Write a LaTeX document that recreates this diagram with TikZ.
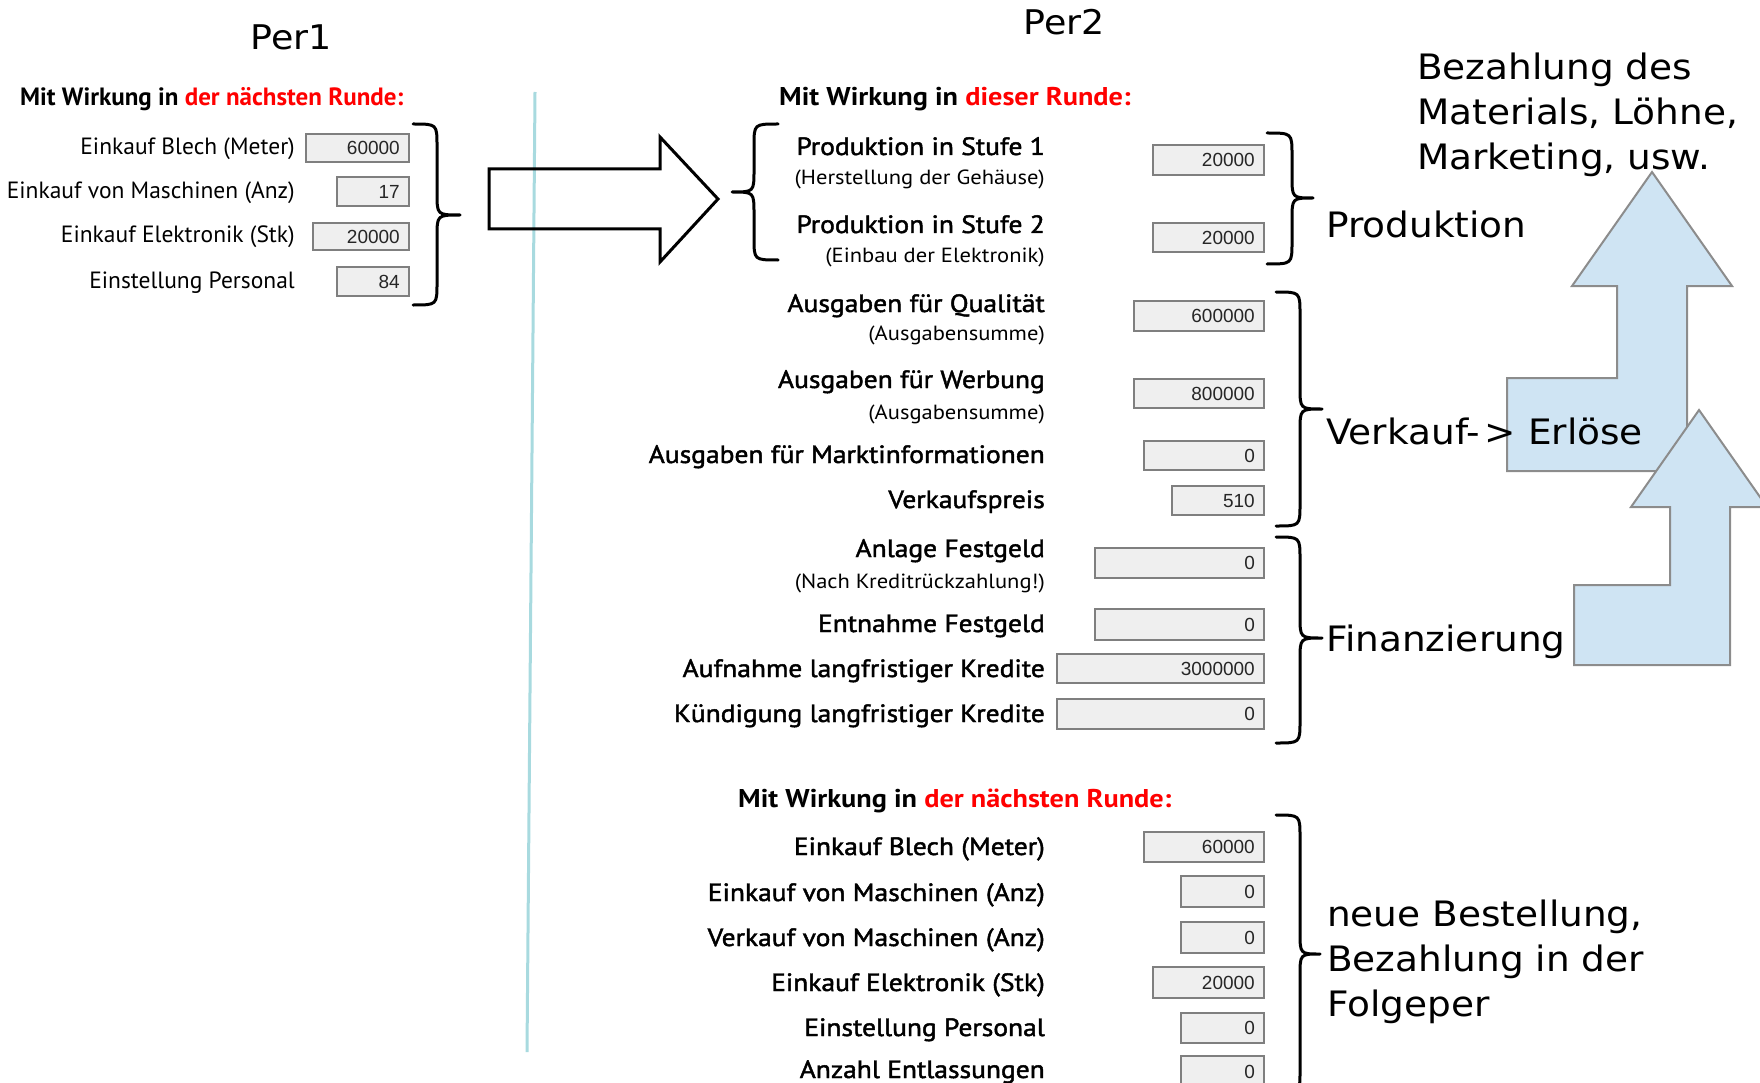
\documentclass[tikz,border=0pt]{standalone}
\usepackage{fontspec}
\setmainfont[FakeStretch=1.07]{DejaVu Sans}
\newfontfamily\formA{PT Sans}
\newfontfamily\formB[FakeStretch=1.1,FakeBold=1.8]{PT Sans}
\newfontfamily\formBlight[FakeStretch=1.1]{PT Sans}
\newfontfamily\numfont{Liberation Sans}

\definecolor{boxfill}{HTML}{EFEFEF}
\definecolor{boxline}{HTML}{7F7F7F}
\definecolor{sepline}{HTML}{A8DADF}
\definecolor{upfill}{HTML}{CFE4F3}
\definecolor{upline}{HTML}{8C8C8C}
\definecolor{hot}{HTML}{FF0000}

\tikzset{
  bracepath/.style={line width=3pt, line cap=round, line join=round},
  valbox/.style={draw=boxline, fill=boxfill, line width=2pt, inner sep=0pt, anchor=north west},
  valtxt/.style={anchor=east, inner sep=0pt, text=black!85, font=\numfont\fontsize{19}{22}\selectfont},
  title/.style={anchor=base, inner sep=0pt, font=\fontsize{34}{40}\selectfont},
  hdrA/.style={anchor=base west, inner sep=0pt, font=\formA\bfseries\fontsize{25}{28}\selectfont},
  hdrB/.style={anchor=base west, inner sep=0pt, font=\formBlight\bfseries\fontsize{25.7}{30}\selectfont},
  lblA/.style={anchor=base east, inner sep=0pt, font=\formA\fontsize{23.5}{28}\selectfont},
  lblB/.style={anchor=base east, inner sep=0pt, font=\formB\fontsize{25}{30}\selectfont},
  subB/.style={anchor=base east, inner sep=0pt, font=\formBlight\fontsize{20.5}{24}\selectfont},
  note/.style={anchor=base west, inner sep=0pt, font=\fontsize{35}{45}\selectfont},
  notelines/.style={anchor=north west, inner sep=0pt, align=left, font=\fontsize{35}{45}\selectfont},
  upshape/.style={fill=upfill, draw=upline, line width=2pt, line join=miter},
  bigarrow/.style={draw=black, line width=3pt, line join=miter},
}

% input field: name, left, top, right, bottom, value
\newcommand\ValBox[6]{%
  \node[valbox, minimum width=#4pt-#2pt, minimum height=#5pt-#3pt] (#1) at (#2,#3) {};
  \node[valtxt] (#1t) at ([xshift=-10pt]#1.east) {#6};}

% curly brace: end x, stem x, tip x, top y, tip y, bottom y
\newcommand\CurlyBr[6]{%
  \draw[bracepath] (#1,#4) .. controls (#2,#4) .. (#2,#4+22) -- (#2,#5-22)
    .. controls (#2,#5) .. (#3,#5) .. controls (#2,#5) .. (#2,#5+22)
    -- (#2,#6-22) .. controls (#2,#6) .. (#1,#6);}

\begin{document}
\begin{tikzpicture}[x=1pt,y=-1pt]
\useasboundingbox (0,0) rectangle (1760,1083);
\clip (0,0) rectangle (1760,1083);

% separator between the two periods
\coordinate (septop) at (535,92);
\coordinate (sepbot) at (527,1052);
\draw[sepline, line width=3pt] (septop) -- (sepbot);

% hollow arrow from period 1 to period 2
\draw[bigarrow] (489,169) -- (660,169) -- (660,137) -- (718,199) -- (660,262)
  -- (660,229) -- (489,229) -- cycle;

% rising cash-flow arrows
\draw[upshape] (1507,378) -- (1617,378) -- (1617,286) -- (1572,286) -- (1652,172)
  -- (1732,286) -- (1687,286) -- (1687,471) -- (1507,471) -- cycle;
\draw[upshape] (1574,585) -- (1670,585) -- (1670,507) -- (1631,507) -- (1699,410)
  -- (1767,507) -- (1730,507) -- (1730,665) -- (1574,665) -- cycle;

% titles
\node[title] (per1) at (291,50) {Per1};
\node[title] (per2) at (1064,35) {Per2};

% ---------- period 1 ----------
\node[hdrA] (hA) at (20,106) {Mit Wirkung in \textcolor{hot}{der nächsten Runde:}};
\node[lblA] (a1) at (295,155) {Einkauf Blech (Meter)};
\node[lblA] (a2) at (295,199) {Einkauf von Maschinen (Anz)};
\node[lblA] (a3) at (295,243) {Einkauf Elektronik (Stk)};
\node[lblA] (a4) at (295,288) {Einstellung Personal};
\ValBox{va1}{305}{133}{408}{161}{60000}
\ValBox{va2}{336}{176}{408}{205}{17}
\ValBox{va3}{312}{222}{408}{249}{20000}
\ValBox{va4}{336}{266}{408}{295}{84}
\CurlyBr{413}{437}{460}{124}{215}{305}

% ---------- period 2: this round ----------
\node[hdrB] (hB) at (779,106) {Mit Wirkung in \textcolor{hot}{dieser Runde:}};
\CurlyBr{778}{754}{732}{124}{192}{260}

\node[lblB] (b1) at (1045,155) {Produktion in Stufe 1};
\node[subB] (b1s) at (1045,185) {(Herstellung der Gehäuse)};
\node[lblB] (b2) at (1045,233) {Produktion in Stufe 2};
\node[subB] (b2s) at (1045,262) {(Einbau der Elektronik)};
\node[lblB] (b3) at (1045,312) {Ausgaben für Qualität};
\node[subB] (b3s) at (1045,340) {(Ausgabensumme)};
\node[lblB] (b4) at (1045,388) {Ausgaben für Werbung};
\node[subB] (b4s) at (1045,419) {(Ausgabensumme)};
\node[lblB] (b5) at (1045,463) {Ausgaben für Marktinformationen};
\node[lblB] (b6) at (1045,508) {Verkaufspreis};
\node[lblB] (b7) at (1045,557) {Anlage Festgeld};
\node[subB] (b7s) at (1045,588) {(Nach Kreditrückzahlung!)};
\node[lblB] (b8) at (1045,632) {Entnahme Festgeld};
\node[lblB] (b9) at (1045,677) {Aufnahme langfristiger Kredite};
\node[lblB] (b10) at (1045,722) {Kündigung langfristiger Kredite};

\ValBox{vb1}{1152}{144}{1263}{174}{20000}
\ValBox{vb2}{1152}{222}{1263}{251}{20000}
\ValBox{vb3}{1133}{300}{1263}{330}{600000}
\ValBox{vb4}{1133}{378}{1263}{407}{800000}
\ValBox{vb5}{1143}{440}{1263}{469}{0}
\ValBox{vb6}{1171}{485}{1263}{514}{510}
\ValBox{vb7}{1094}{547}{1263}{577}{0}
\ValBox{vb8}{1094}{608}{1263}{639}{0}
\ValBox{vb9}{1056}{653}{1263}{682}{3000000}
\ValBox{vb10}{1056}{698}{1263}{728}{0}

\CurlyBr{1267}{1292}{1313}{133}{198}{264}
\CurlyBr{1276}{1300}{1322}{292}{409}{526}
\CurlyBr{1276}{1300}{1322}{537}{638}{743}

% ---------- period 2: next round ----------
\node[hdrB] (hC) at (738,807) {Mit Wirkung in \textcolor{hot}{der nächsten Runde:}};
\node[lblB] (c1) at (1045,855) {Einkauf Blech (Meter)};
\node[lblB] (c2) at (1045,901) {Einkauf von Maschinen (Anz)};
\node[lblB] (c3) at (1045,946) {Verkauf von Maschinen (Anz)};
\node[lblB] (c4) at (1045,991) {Einkauf Elektronik (Stk)};
\node[lblB] (c5) at (1045,1036) {Einstellung Personal};
\node[lblB] (c6) at (1045,1078) {Anzahl Entlassungen};

\ValBox{vc1}{1143}{831}{1263}{861}{60000}
\ValBox{vc2}{1180}{875}{1263}{906}{0}
\ValBox{vc3}{1180}{921}{1263}{952}{0}
\ValBox{vc4}{1152}{966}{1263}{997}{20000}
\ValBox{vc5}{1180}{1012}{1263}{1042}{0}
\ValBox{vc6}{1180}{1055}{1263}{1086}{0}

\CurlyBr{1276}{1300}{1320}{815}{954}{1093}

% ---------- annotations ----------
\node[note] (np) at (1326,238) {Produktion};
\node[note] (nv) at (1326,444) {Verkauf-\hspace{5pt}> Erlöse};
\node[note] (nf) at (1326,651) {Finanzierung};
\node[notelines] (nb) at (1327,900) {neue Bestellung,\\Bezahlung in der\\Folgeper};
\node[notelines] (nz) at (1417,53) {Bezahlung des\\Materials, Löhne,\\Marketing, usw.};
\end{tikzpicture}
\end{document}
